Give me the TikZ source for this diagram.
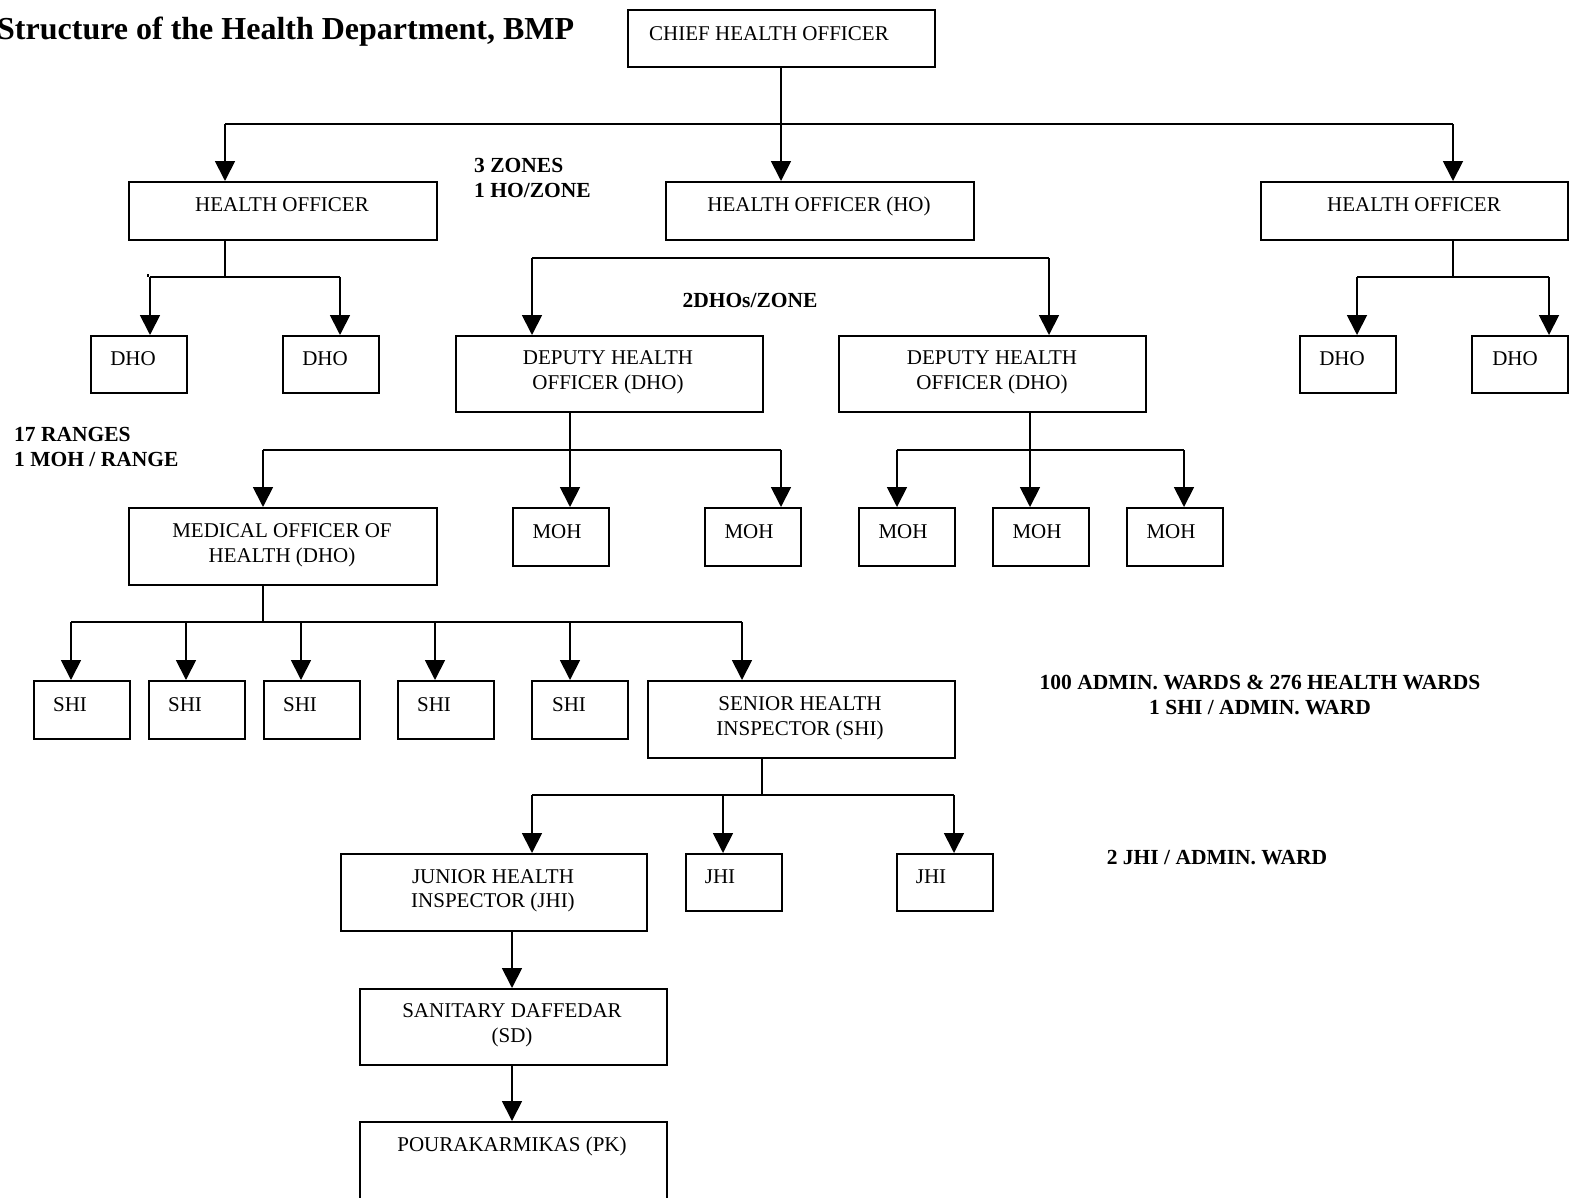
\documentclass[tikz,border=0pt]{standalone}
\usepackage{fontspec}
\setmainfont{Liberation Serif}
\usetikzlibrary{arrows.meta}
\tikzset{
  obox/.style={draw, line width=1.8pt, inner sep=0pt, anchor=north west, fill=none},
  conn/.style={line width=1.8pt},
  arr/.style={line width=1.8pt, -{Triangle[width=20pt,length=20pt]}},
  txt/.style={anchor=base, inner sep=0pt, font=\fontsize{21}{25}\selectfont},
  btxt/.style={anchor=base, inner sep=0pt, font=\fontsize{21.5}{25}\selectfont\bfseries},
}
\newcommand\obx[5]{\node[obox, minimum width=#4pt, minimum height=#5pt] (#1) at (#2,#3) {};}
\begin{document}
\begin{tikzpicture}[x=1pt,y=-1pt]
\useasboundingbox (0,0) rectangle (1569,1197);
% title
\node[anchor=base west, inner sep=0pt, font=\fontsize{32}{36}\selectfont\bfseries] (title) at (-3,39) {Structure of the Health Department, BMP};
% boxes: name, left, top, width, height
\obx{chief}{627}{9}{307}{57}
\obx{hoA}{128}{181}{308}{58}
\obx{hoB}{665}{181}{308}{58}
\obx{hoC}{1260}{181}{307}{58}
\obx{dhoA}{90}{335}{96}{57}
\obx{dhoB}{282}{335}{96}{57}
\obx{depA}{455}{335}{307}{76}
\obx{depB}{838}{335}{307}{76}
\obx{dhoC}{1299}{335}{96}{57}
\obx{dhoD}{1471}{335}{96}{57}
\obx{mo}{128}{507}{308}{77}
\obx{mohA}{512}{507}{96}{58}
\obx{mohB}{704}{507}{96}{58}
\obx{mohC}{858}{507}{96}{58}
\obx{mohD}{992}{507}{96}{58}
\obx{mohE}{1126}{507}{96}{58}
\obx{shiA}{33}{680}{96}{58}
\obx{shiB}{148}{680}{96}{58}
\obx{shiC}{263}{680}{96}{58}
\obx{shiD}{397}{680}{96}{58}
\obx{shiE}{531}{680}{96}{58}
\obx{shs}{647}{680}{307}{77}
\obx{jhi}{340}{853}{306}{77}
\obx{jhiB}{685}{853}{96}{57}
\obx{jhiC}{896}{853}{96}{57}
\obx{sd}{359}{988}{307}{76}
\obx{pk}{359}{1121}{307}{90}
% texts
\node[txt] (tchief) at (769,40) {CHIEF HEALTH OFFICER};
\node[txt] (thoA) at (282,211) {HEALTH OFFICER};
\node[txt] (thoB) at (819,211) {HEALTH OFFICER (HO)};
\node[txt] (thoC) at (1414,211) {HEALTH OFFICER};
\node[btxt, anchor=base west] (zA) at (474,172) {3 ZONES};
\node[btxt, anchor=base west] (zB) at (474,197) {1 HO/ZONE};
\node[txt] (tdhoA) at (133,365) {DHO};
\node[txt] (tdhoB) at (325,365) {DHO};
\node[txt] (tdhoC) at (1342,365) {DHO};
\node[txt] (tdhoD) at (1515,365) {DHO};
\node[txt] (tdepA1) at (608,364) {DEPUTY HEALTH};
\node[txt] (tdepA2) at (608,389) {OFFICER (DHO)};
\node[txt] (tdepB1) at (992,364) {DEPUTY HEALTH};
\node[txt] (tdepB2) at (992,389) {OFFICER (DHO)};
\node[btxt] (zC) at (750,307) {2DHOs/ZONE};
\node[btxt, anchor=base west] (rA) at (14,441) {17 RANGES};
\node[btxt, anchor=base west] (rB) at (14,466) {1 MOH / RANGE};
\node[txt] (tmo1) at (282,537) {MEDICAL OFFICER OF};
\node[txt] (tmo2) at (282,562) {HEALTH (DHO)};
\node[txt] (tmohA) at (557,538) {MOH};
\node[txt] (tmohB) at (749,538) {MOH};
\node[txt] (tmohC) at (903,538) {MOH};
\node[txt] (tmohD) at (1037,538) {MOH};
\node[txt] (tmohE) at (1171,538) {MOH};
\node[txt] (tshiA) at (70,711) {SHI};
\node[txt] (tshiB) at (185,711) {SHI};
\node[txt] (tshiC) at (300,711) {SHI};
\node[txt] (tshiD) at (434,711) {SHI};
\node[txt] (tshiE) at (569,711) {SHI};
\node[txt] (tshs1) at (800,710) {SENIOR HEALTH};
\node[txt] (tshs2) at (800,735) {INSPECTOR (SHI)};
\node[btxt] (wA) at (1260,689) {100 ADMIN. WARDS \& 276 HEALTH WARDS};
\node[btxt] (wB) at (1260,714) {1 SHI / ADMIN. WARD};
\node[txt] (tjhi1) at (493,883) {JUNIOR HEALTH};
\node[txt] (tjhi2) at (493,907) {INSPECTOR (JHI)};
\node[txt] (tjhiB) at (720,883) {JHI};
\node[txt] (tjhiC) at (931,883) {JHI};
\node[btxt] (wC) at (1217,864) {2 JHI / ADMIN. WARD};
\node[txt] (tsd1) at (512,1017) {SANITARY DAFFEDAR};
\node[txt] (tsd2) at (512,1042) {(SD)};
\node[txt] (tpk) at (512,1151) {POURAKARMIKAS (PK)};
% connectors
\coordinate (b0) at (781,124);
\draw[conn] (chief.south -| b0) -- (b0);
\draw[conn] (225,124) -- (1453,124);
\draw[arr] (225,124) -- (225,0 |- hoA.north);
\draw[arr] (b0) -- (781,0 |- hoB.north);
\draw[arr] (1453,124) -- (1453,0 |- hoC.north);
% left HO
\draw[conn] (225,0 |- hoA.south) -- (225,277);
\draw[conn] (150,277) -- (340,277);
\draw[conn] (148,274) -- (148,277);
\draw[arr] (150,277) -- (150,0 |- dhoA.north);
\draw[arr] (340,277) -- (340,0 |- dhoB.north);
% right HO
\draw[conn] (1453,0 |- hoC.south) -- (1453,277);
\draw[conn] (1357,277) -- (1549,277);
\draw[arr] (1357,277) -- (1357,0 |- dhoC.north);
\draw[arr] (1549,277) -- (1549,0 |- dhoD.north);
% middle
\draw[conn] (532,258) -- (1049,258);
\draw[arr] (532,258) -- (532,0 |- depA.north);
\draw[arr] (1049,258) -- (1049,0 |- depB.north);
% deputy A
\draw[conn] (570,0 |- depA.south) -- (570,450);
\draw[conn] (263,450) -- (781,450);
\draw[arr] (263,450) -- (263,0 |- mo.north);
\draw[arr] (570,450) -- (570,0 |- mohA.north);
\draw[arr] (781,450) -- (781,0 |- mohB.north);
% deputy B
\draw[conn] (1030,0 |- depB.south) -- (1030,450);
\draw[conn] (897,450) -- (1184,450);
\draw[arr] (897,450) -- (897,0 |- mohC.north);
\draw[arr] (1030,450) -- (1030,0 |- mohD.north);
\draw[arr] (1184,450) -- (1184,0 |- mohE.north);
% MO
\draw[conn] (263,0 |- mo.south) -- (263,622);
\draw[conn] (71,622) -- (742,622);
\draw[arr] (71,622) -- (71,0 |- shiA.north);
\draw[arr] (186,622) -- (186,0 |- shiB.north);
\draw[arr] (301,622) -- (301,0 |- shiC.north);
\draw[arr] (435,622) -- (435,0 |- shiD.north);
\draw[arr] (570,622) -- (570,0 |- shiE.north);
\draw[arr] (742,622) -- (742,0 |- shs.north);
% SHS
\draw[conn] (762,0 |- shs.south) -- (762,795);
\draw[conn] (532,795) -- (954,795);
\draw[arr] (532,795) -- (532,0 |- jhi.north);
\draw[arr] (723,795) -- (723,0 |- jhiB.north);
\draw[arr] (954,795) -- (954,0 |- jhiC.north);
% JHI -> SD -> PK
\draw[arr] (512,0 |- jhi.south) -- (512,0 |- sd.north);
\draw[arr] (512,0 |- sd.south) -- (512,0 |- pk.north);
\end{tikzpicture}
\end{document}
